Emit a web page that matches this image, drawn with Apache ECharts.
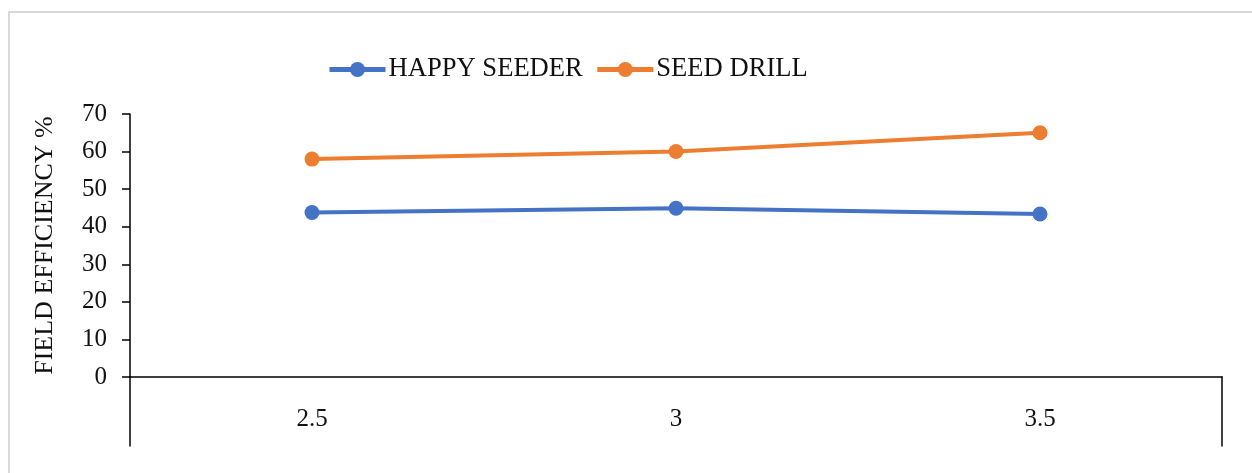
<!DOCTYPE html>
<html>
<head>
<meta charset="utf-8">
<script src="https://cdn.jsdelivr.net/npm/echarts@6/dist/echarts.min.js"></script>
<style>
html, body {
    margin: 0;
    padding: 0;
    background: #fff;
    overflow: hidden;
}
#frame {
    position: absolute;
    left: 8px;
    top: 11px;
    width: 1400px;
    height: 600px;
    border-top: 2px solid #d9d9d9;
    border-left: 2px solid #d9d9d9;
}
#chart {
    position: absolute;
    left: 0;
    top: 0;
    width: 1252px;
    height: 473px;
}
</style>
</head>
<body>
<div id="frame"></div>
<div id="chart"></div>
<script>
// x categories (speed) and field efficiency values
const speeds = ["2.5", "3", "3.5"];
const happy_seeder = [43.8, 44.9, 43.4];
const seed_drill = [58, 60, 65];
const series_names = ["HAPPY SEEDER", "SEED DRILL"];
const y_title = "FIELD EFFICIENCY %";

const font = "'Liberation Serif', 'Times New Roman', serif";

let chart = echarts.init(document.getElementById("chart"));
chart.setOption({
    animation: false,
    color: ["#4472C4", "#ED7D31"],
    textStyle: { fontFamily: font },
    legend: {
        data: series_names,
        left: 322,
        top: 51,
        itemWidth: 56,
        itemHeight: 19,
        itemGap: 12,
        lineStyle: { width: 5 },
        textStyle: {
            fontFamily: font,
            fontSize: 26.6,
            color: "#111",
            padding: [0, 0, 0, -2],
        },
    },
    grid: [
        { left: 130, right: 30, top: 114, bottom: 96 },
        { left: 130, right: 30, top: 377, bottom: 27 },
    ],
    xAxis: [
        {
            type: "category",
            data: speeds,
            boundaryGap: true,
            axisLine: { lineStyle: { color: "#000", width: 1.5 } },
            axisTick: { show: false },
            axisLabel: {
                margin: 30,
                fontFamily: font,
                fontSize: 25,
                color: "#111",
            },
        },
        {
            gridIndex: 1,
            type: "category",
            data: speeds,
            show: false,
        },
    ],
    yAxis: [
        {
            type: "value",
            min: 0,
            max: 70,
            interval: 10,
            name: y_title,
            nameLocation: "middle",
            nameGap: 72,
            nameTextStyle: {
                fontFamily: font,
                fontSize: 26,
                color: "#111",
            },
            axisLine: { show: true, lineStyle: { color: "#000", width: 1.5 } },
            axisTick: { show: true, length: 8, lineStyle: { color: "#000", width: 1.5 } },
            splitLine: { show: false },
            axisLabel: {
                margin: 23,
                fontFamily: font,
                fontSize: 25,
                color: "#111",
            },
        },
        {
            gridIndex: 1,
            type: "value",
            position: "left",
            min: 0,
            max: 1,
            axisLine: { show: true, lineStyle: { color: "#000", width: 1.5 } },
            axisTick: { show: false },
            axisLabel: { show: false },
            splitLine: { show: false },
        },
        {
            gridIndex: 1,
            type: "value",
            position: "right",
            min: 0,
            max: 1,
            axisLine: { show: true, lineStyle: { color: "#000", width: 1.5 } },
            axisTick: { show: false },
            axisLabel: { show: false },
            splitLine: { show: false },
        },
    ],
    series: [
        {
            name: series_names[0],
            type: "line",
            data: happy_seeder,
            symbol: "circle",
            symbolSize: 15,
            lineStyle: { width: 4 },
        },
        {
            name: series_names[1],
            type: "line",
            data: seed_drill,
            symbol: "circle",
            symbolSize: 15,
            lineStyle: { width: 4 },
        },
    ],
});
</script>
</body>
</html>
